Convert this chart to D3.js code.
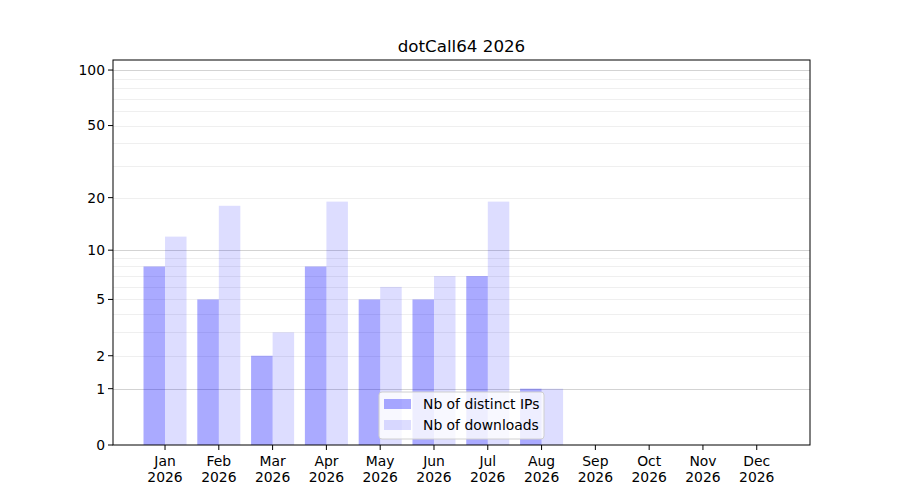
<html lang="en">
<head>
<script src="https://cdn.jsdelivr.net/npm/d3@7"></script>
<style>
body{margin:0;background:#fff;}
text{font-family:"DejaVu Sans",sans-serif;}
</style>
</head>
<body>
<div id="chart"></div>
<script>
// data
const months=["Jan","Feb","Mar","Apr","May","Jun","Jul","Aug","Sep","Oct","Nov","Dec"]
const year="2026"
const distinctIPs=[8,5,2,8,5,5,7,1,0,0,0,0]
const downloads=[12,18,3,19,6,7,19,1,0,0,0,0]
const yTicks=[0,1,2,5,10,20,50,100]
const yMinor=[2,3,4,5,6,7,8,9,20,30,40,50,60,70,80,90]
const yMajor=[1,10,100]

const W=900,H=500
const mLeft=113,mRight=810,mTop=60,mBottom=445
const fs="13.9px"

const svg=d3.select("#chart").append("svg").attr("width",W).attr("height",H)

// log(1+x) axis
const lin=d3.scaleLinear().domain([0,Math.log10(1+113.3)]).range([mBottom,mTop])
const y=v=>lin(Math.log10(1+v))
const x=d3.scaleLinear().domain([-0.967,11.99]).range([mLeft,mRight])
const bw=x(0.4)-x(0)

// grid
svg.append("g").selectAll("line").data(yMinor).enter().append("line")
 .attr("x1",mLeft).attr("x2",mRight).attr("y1",d=>Math.round(y(d))+0.5).attr("y2",d=>Math.round(y(d))+0.5)
 .style("stroke","#ebebeb").style("stroke-width",0.8)
svg.append("g").selectAll("line").data(yMajor).enter().append("line")
 .attr("x1",mLeft).attr("x2",mRight).attr("y1",d=>Math.round(y(d))+0.5).attr("y2",d=>Math.round(y(d))+0.5)
 .style("stroke","#c8c8c8").style("stroke-width",0.8)

// bars
svg.append("g").selectAll("rect").data(distinctIPs).enter().append("rect")
 .attr("x",(d,i)=>x(i)-bw).attr("width",bw).attr("y",d=>y(d)).attr("height",d=>mBottom-y(d))
 .style("fill","#0000ff").style("fill-opacity",0.333)
svg.append("g").selectAll("rect").data(downloads).enter().append("rect")
 .attr("x",(d,i)=>x(i)).attr("width",bw).attr("y",d=>y(d)).attr("height",d=>mBottom-y(d))
 .style("fill","#0000ff").style("fill-opacity",0.135)

// frame
svg.append("rect").attr("x",mLeft).attr("y",mTop).attr("width",mRight-mLeft).attr("height",mBottom-mTop)
 .style("fill","none").style("stroke","#000").style("stroke-width",1)

// y ticks
const yt=svg.append("g").selectAll("g").data(yTicks).enter().append("g")
 .attr("transform",d=>"translate(0,"+y(d)+")")
yt.append("line").attr("x1",mLeft-5).attr("x2",mLeft).style("stroke","#000")
yt.append("text").attr("x",mLeft-8).attr("dy","0.35em").attr("text-anchor","end")
 .style("font-size",fs).text(d=>d)

// x ticks
const xt=svg.append("g").selectAll("g").data(months).enter().append("g")
 .attr("transform",(d,i)=>"translate("+x(i)+","+mBottom+")")
xt.append("line").attr("y1",0).attr("y2",5).style("stroke","#000")
xt.append("text").attr("y",21).attr("text-anchor","middle").style("font-size",fs).text(d=>d)
xt.append("text").attr("y",37).attr("text-anchor","middle").style("font-size",fs).text(year)

// title
svg.append("text").attr("x",(mLeft+mRight)/2).attr("y",52).attr("text-anchor","middle")
 .style("font-size","16.7px").text("dotCall64 2026")

// legend
const lg=svg.append("g").attr("transform","translate(379,392)")
lg.append("rect").attr("width",165).attr("height",47).attr("rx",3)
 .style("fill","#fff").style("fill-opacity",0.8).style("stroke","#d0d0d0")
const items=[["Nb of distinct IPs",0.333],["Nb of downloads",0.135]]
items.forEach((it,i)=>{
 lg.append("rect").attr("x",5).attr("y",7+i*21).attr("width",27).attr("height",10)
  .style("fill","#0000ff").style("fill-opacity",it[1])
 lg.append("text").attr("x",44).attr("y",17+i*21).style("font-size",fs).text(it[0])
})
</script>
</body>
</html>
